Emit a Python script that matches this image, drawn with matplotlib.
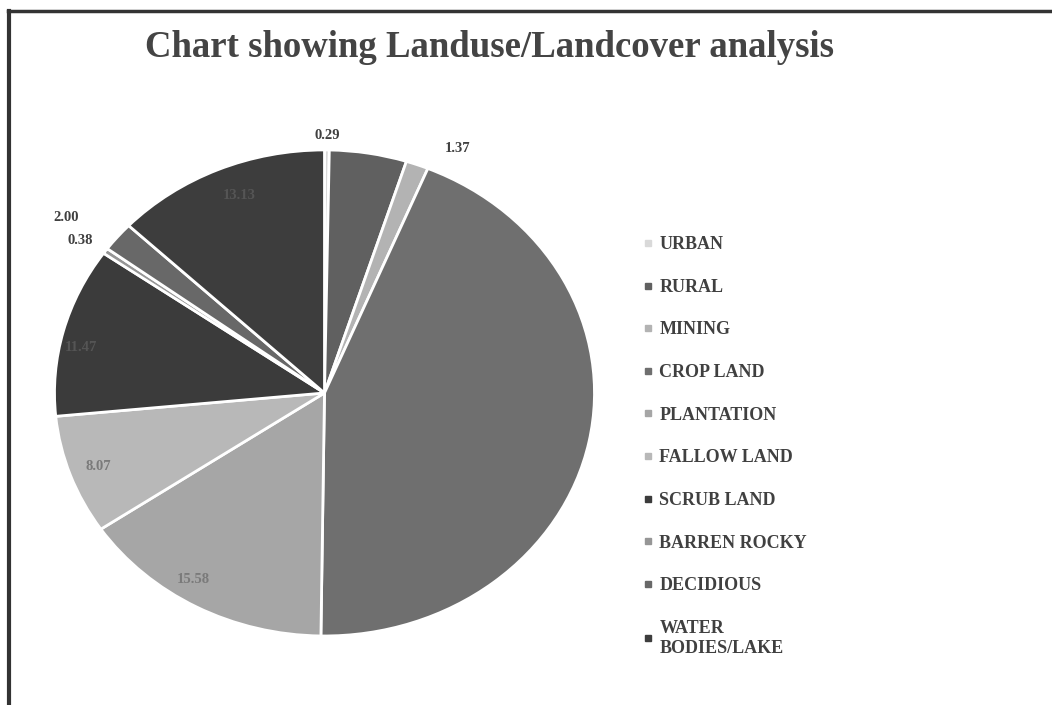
import numpy as np
import matplotlib.pyplot as plt
from matplotlib.lines import Line2D

# land use classes and their shares (%)
categories = ['URBAN', 'RURAL', 'MINING', 'CROP LAND', 'PLANTATION',
              'FALLOW LAND', 'SCRUB LAND', 'BARREN ROCKY', 'DECIDIOUS',
              'WATER\nBODIES/LAKE']
values = [0.29, 4.7, 1.37, 44.7, 15.58, 8.07, 11.47, 0.38, 2.00, 13.13]
value_labels = ['0.29', '', '1.37', '', '15.58', '8.07', '11.47', '0.38', '2.00', '13.13']

colors = ['#d9d9d9', '#606060', '#b3b3b3', '#6f6f6f', '#a6a6a6',
          '#b8b8b8', '#3b3b3b', '#969696', '#686868', '#3d3d3d']
label_radius = [1.06, 0.8, 1.12, 0.8, 0.91, 0.89, 0.92, 1.10, 1.20, 0.87]
label_shift = [0, 0, 6, 0, 4, 0, -3, -1, -3, 2]   # degrees, nudges for label placement
label_colors = ['#404040', '#555555', '#404040', '#555555', '#7a7a7a',
                '#7a7a7a', '#555555', '#404040', '#404040', '#555555']

serif = ['Liberation Serif', 'DejaVu Serif']

fig = plt.figure(figsize=(10.52, 7.05), dpi=100)
ax = fig.add_axes([0.0518, 0.0979, 0.5133, 0.6894])

wedges, _ = ax.pie(values, colors=colors, startangle=90, counterclock=False,
                   wedgeprops=dict(edgecolor='white', linewidth=2))
ax.set_xlim(-1, 1)
ax.set_ylim(-1, 1)
ax.set_aspect('auto')

# value labels placed along each wedge's middle angle
for w, txt, r, s, c in zip(wedges, value_labels, label_radius, label_shift, label_colors):
    if not txt:
        continue
    mid = np.deg2rad((w.theta1 + w.theta2) / 2 - s)
    ax.text(r * np.cos(mid), r * np.sin(mid), txt, ha='center', va='center',
            fontsize=10.5, fontweight='bold', family=serif, color=c)

fig.text(0.465, 0.933, 'Chart showing Landuse/Landcover analysis', ha='center', va='center',
         fontsize=26.5, fontweight='bold', family=serif, color='#444444')

handles = [Line2D([], [], marker='s', linestyle='none', markersize=5,
                  markerfacecolor=c, markeredgecolor=c) for c in colors]
leg = fig.legend(handles, categories, loc='upper left', bbox_to_anchor=(0.595, 0.688),
                 frameon=False, handlelength=0.6, handletextpad=0.35,
                 labelspacing=1.42, prop=dict(family=serif, weight='bold', size=13))
for t in leg.get_texts():
    t.set_color('#404040')

# dark frame on the top and left edges
fig.add_artist(Line2D([0.008, 1.0], [0.984, 0.984], color='#333333', linewidth=2.5))
fig.add_artist(Line2D([0.009, 0.009], [0.0, 0.984], color='#333333', linewidth=3))

fig.savefig('out.png', dpi=100)
